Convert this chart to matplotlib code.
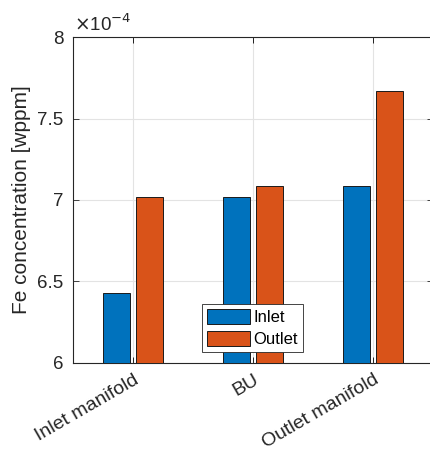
import matplotlib
matplotlib.use("Agg")
import matplotlib.pyplot as plt
from matplotlib.ticker import FuncFormatter, MultipleLocator
import numpy as np

categories = ["Inlet manifold", "BU", "Outlet manifold"]
inlet = [6.43e-4, 7.02e-4, 7.085e-4]
outlet = [7.02e-4, 7.085e-4, 7.67e-4]
series_names = ["Inlet", "Outlet"]

plt.rcParams['font.family'] = ['Liberation Sans', 'DejaVu Sans']

fig = plt.figure(figsize=(4.31, 4.54), dpi=100)
ax = fig.add_axes([73/431, 91/454, 360/431, 326/454])

x = np.arange(len(categories))
w = 0.225
off = 0.14
ax.bar(x - off, inlet, w, color='#0072BD', edgecolor='#1a1a1a', linewidth=0.7, label=series_names[0], zorder=3)
ax.bar(x + off, outlet, w, color='#D95319', edgecolor='#1a1a1a', linewidth=0.7, label=series_names[1], zorder=3)

ax.set_xlim(-0.5, 2.5)
ax.set_ylim(6e-4, 8e-4)
ax.yaxis.set_major_locator(MultipleLocator(0.5e-4))
ax.yaxis.set_major_formatter(FuncFormatter(lambda v, p: f"{v*1e4:g}"))
ax.set_xticks(x)
ax.set_xticklabels(categories, rotation=30, ha='right', va='top', rotation_mode='anchor',
                   fontsize=14, color='#262626')
ax.tick_params(axis='y', labelsize=13.5, colors='#262626', direction='in', length=4, right=True, width=0.6, pad=7)
ax.tick_params(axis='x', direction='in', length=4, top=True, width=0.6, pad=6)
ax.grid(True, color='#e3e3e3', linewidth=0.8, zorder=0)
ax.set_axisbelow(True)
for s in ax.spines.values():
    s.set_color('#262626')
    s.set_linewidth(0.8)

ax.set_ylabel("Fe concentration [wppm]", fontsize=15, color='#262626', labelpad=4)
fig.text(74/431, 1 - 24/454, r"$\times$10$^{-4}$", fontsize=13.5, color='#262626', va='center', ha='left')

leg = ax.legend(loc='lower left', bbox_to_anchor=(0.358, 0.034), fontsize=12, frameon=True, fancybox=False,
                edgecolor='#262626', facecolor='white', framealpha=1.0,
                handlelength=2.6, handleheight=1.0, handletextpad=0.2,
                borderpad=0.3, labelspacing=0.35, borderaxespad=0)
leg.get_frame().set_linewidth(0.6)
leg.set_zorder(5)

fig.savefig("out.png", dpi=100)
